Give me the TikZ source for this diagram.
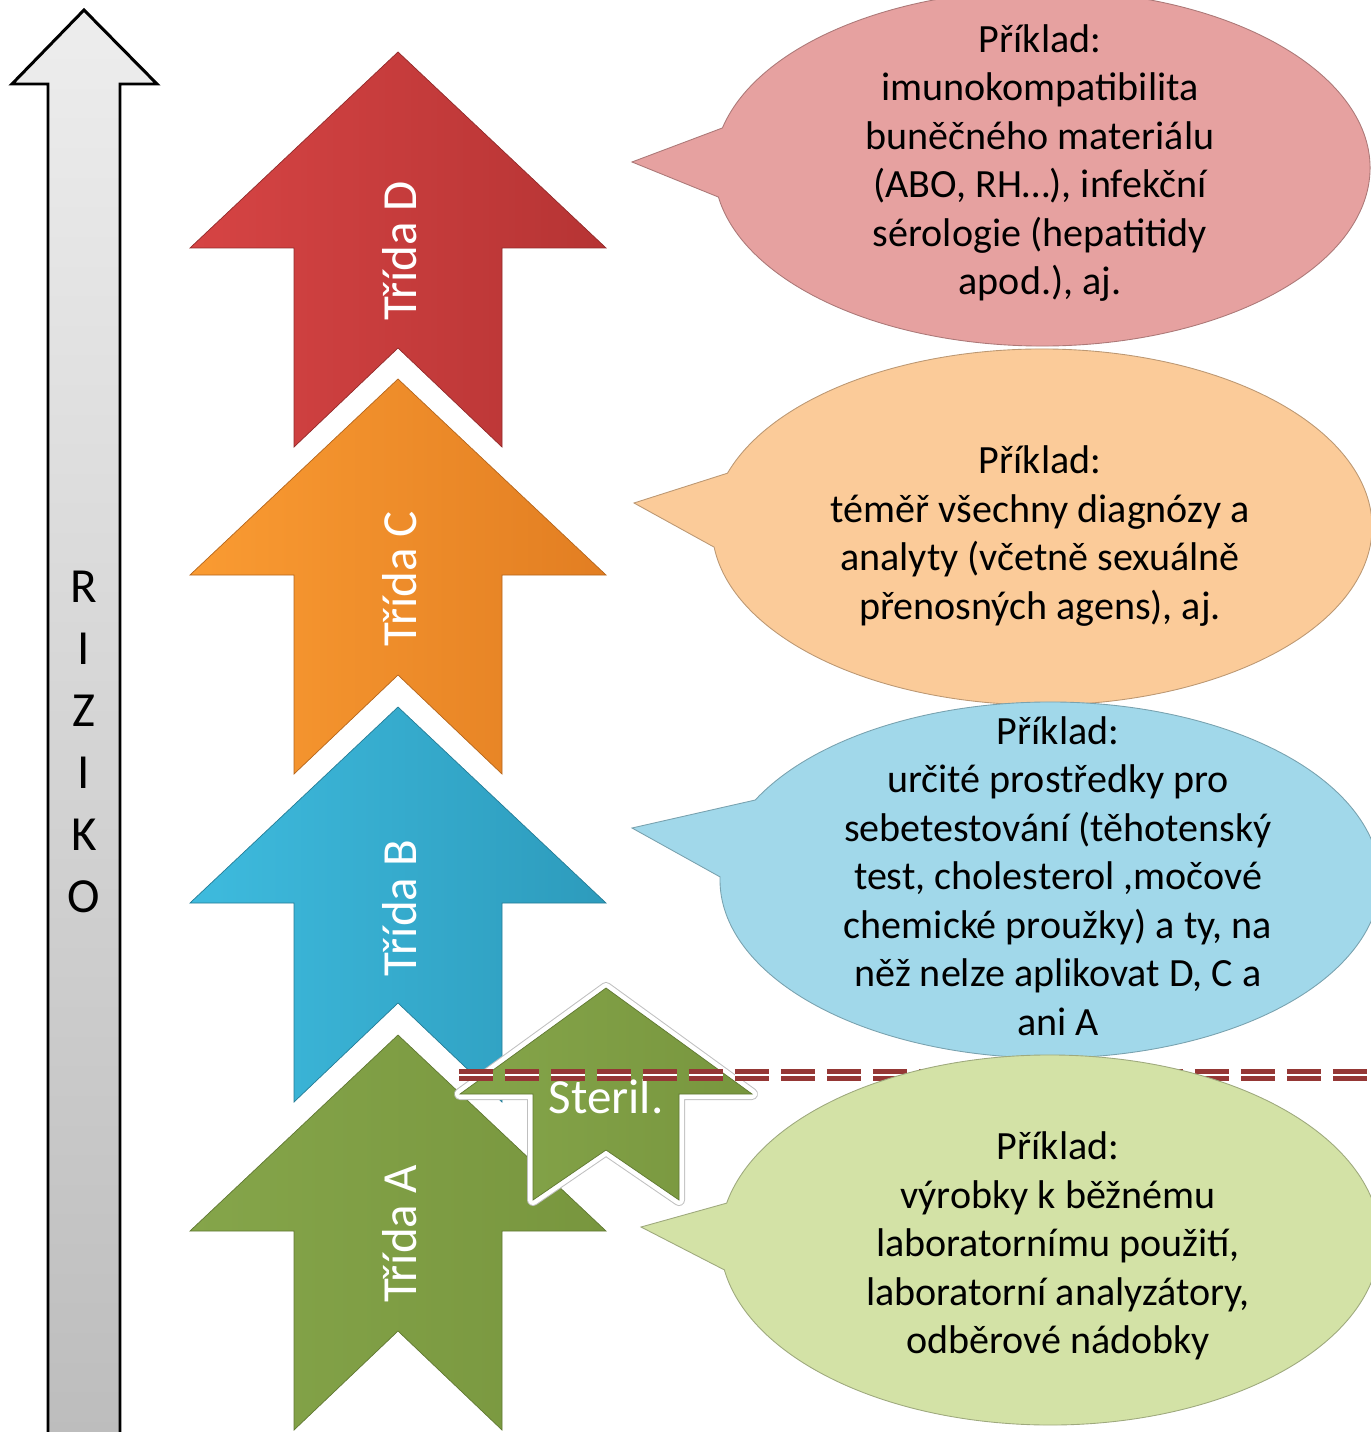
\documentclass[tikz,border=0pt]{standalone}
\usepackage{fontspec}
\setmainfont{Carlito}
\newcommand{\bigfont}{\fontsize{27.9pt}{35.3pt}\selectfont}
\newcommand{\txtfont}{\fontsize{22.8pt}{27.6pt}\selectfont}
\definecolor{dRed}{RGB}{214,68,68}
\definecolor{dRedDk}{RGB}{182,52,52}
\definecolor{cOra}{RGB}{250,155,50}
\definecolor{cOraDk}{RGB}{226,126,34}
\definecolor{bBlu}{RGB}{62,187,222}
\definecolor{bBluDk}{RGB}{45,155,188}
\definecolor{aGrn}{RGB}{133,165,74}
\definecolor{aGrnDk}{RGB}{120,150,62}
\definecolor{pD}{RGB}{230,161,160}
\definecolor{pC}{RGB}{251,203,153}
\definecolor{pB}{RGB}{161,216,234}
\definecolor{pA}{RGB}{211,226,166}
\definecolor{limitred}{RGB}{149,55,53}

\begin{document}
\begin{tikzpicture}[x=0.02cm,y=-0.02cm,%
  risk/.style={draw=black,line width=1.7pt,top color=black!7,bottom color=black!26},%
  cls/.style args={#1/#2}{left color=#1,right color=#2,draw=#2!80!black,line width=0.4pt},%
  halo/.style={preaction={draw=black!25,line join=round,line width=0.24cm},preaction={draw=white,line join=round,line width=0.2cm}},%
  lbl/.style={white,font=\bigfont,rotate=90,inner sep=0pt},%
  bub/.style={fill=#1,draw=#1!75!black,line width=0.5pt},%
  txt/.style={align=center,font=\txtfont,inner sep=0pt},%
  limit/.style={draw=limitred,line width=0.1cm,double=white,double distance=0.04cm,dash pattern=on 0.68cm off 0.24cm}%
  ]
  \useasboundingbox (0,0) rectangle (1371,1432);
%
  \path[risk] (84,10) -- (157,84) -- (120,84) -- (120,1445) -- (48,1445) -- (48,84) -- (12,84) -- cycle;
  \node[font=\bigfont,align=center,inner sep=0pt] (riziko) at (84,742) {R\\I\\Z\\I\\K\\O};
%
  \path[cls=dRed/dRedDk] (398,52) -- ++(208,196) -- ++(-104,0) -- ++(0,199) -- ++(-104,-99) -- ++(-104,99) -- ++(0,-199) -- ++(-104,0) -- cycle;
  \path[cls=cOra/cOraDk] (398,379) -- ++(208,196) -- ++(-104,0) -- ++(0,199) -- ++(-104,-99) -- ++(-104,99) -- ++(0,-199) -- ++(-104,0) -- cycle;
  \path[cls=bBlu/bBluDk] (398,707) -- ++(208,196) -- ++(-104,0) -- ++(0,199) -- ++(-104,-99) -- ++(-104,99) -- ++(0,-199) -- ++(-104,0) -- cycle;
  \path[cls=aGrn/aGrnDk] (398,1035) -- ++(208,196) -- ++(-104,0) -- ++(0,199) -- ++(-104,-99) -- ++(-104,99) -- ++(0,-199) -- ++(-104,0) -- cycle;
  \path[cls=aGrn/aGrnDk,halo] (606,988) -- ++(146,106) -- ++(-73,0) -- ++(0,106) -- ++(-73,-50) -- ++(-73,50) -- ++(0,-106) -- ++(-73,0) -- cycle;
%
  \node[lbl] (trD) at (400,251) {Třída D};
  \node[lbl] (trC) at (400,579) {Třída C};
  \node[lbl] (trB) at (400,908) {Třída B};
  \node[lbl] (trA) at (400,1234) {Třída A};
  \node[white,font=\bigfont,inner sep=0pt] (steril) at (606,1097) {Steril.};
%
  \coordinate (cD) at (1042,168);
  \coordinate (tipD) at (632,162);
  \coordinate (cC) at (1042,527);
  \coordinate (tipC) at (634,503);
  \coordinate (cB) at (1050,880);
  \coordinate (tipB) at (632,828);
  \coordinate (cA) at (1050,1240);
  \coordinate (tipA) at (641,1227);
%
  \path[bub=pD] (tipD) -- ([shift={(193:328 and 178)}]cD) arc[start angle=193,end angle=530.6,x radius=328,y radius=178] -- cycle;
  \path[bub=pC] (tipC) -- ([shift={(197.6:330 and 178)}]cC) arc[start angle=197.6,end angle=533.5,x radius=330,y radius=178] -- cycle;
  \path[bub=pB] (tipB) -- ([shift={(206.7:330 and 178)}]cB) arc[start angle=206.7,end angle=541,x radius=330,y radius=178] -- cycle;
%
  \coordinate (limL) at (459,1075);
  \coordinate (limR) at (1371,1075);
  \draw[limit] (limL) -- (limR);
%
  \path[bub=pA] (tipA) -- ([shift={(191.5:330 and 185)}]cA) arc[start angle=191.5,end angle=530.7,x radius=330,y radius=185] -- cycle;
%
  \node[txt] (exD) at (1040,163) {Příklad:\\imunokompatibilita\\buněčného materiálu\\(ABO, RH…), infekční\\sérologie (hepatitidy\\apod.), aj.};
  \node[txt] (exC) at (1040,536) {Příklad:\\téměř všechny diagnózy a\\analyty (včetně sexuálně\\přenosných agens), aj.};
  \node[txt] (exB) at (1058,876) {Příklad:\\určité prostředky pro\\sebetestování (těhotenský\\test, cholesterol ,močové\\chemické proužky) a ty, na\\něž nelze aplikovat D, C a\\ani A};
  \node[txt] (exA) at (1058,1246) {Příklad:\\výrobky k běžnému\\laboratornímu použití,\\laboratorní analyzátory,\\odběrové nádobky};
%
\end{tikzpicture}
\end{document}
